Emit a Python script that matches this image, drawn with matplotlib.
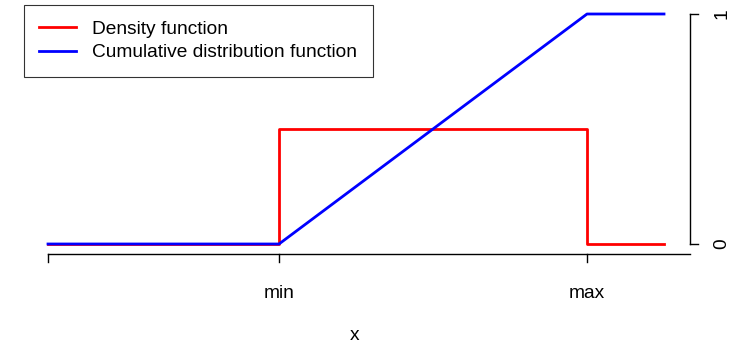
import matplotlib
matplotlib.use('Agg')
import matplotlib.pyplot as plt

# uniform distribution on [min, max], shown on a scaled axis
x_density = [-0.75, 0, 0, 1, 1, 1.25]
y_density = [0, 0, 0.5, 0.5, 0, 0]
x_cdf = [-0.75, 0, 1, 1.25]
y_cdf = [0, 0, 1, 1]
xtick_pos = [-0.75, 0, 1]
xtick_labels = ['', 'min', 'max']
ytick_pos = [0, 1]
ytick_labels = ['0', '1']

W, H = 738, 346
fig = plt.figure(figsize=(W / 100, H / 100), dpi=100)
plt.rcParams['font.family'] = ['Liberation Sans', 'DejaVu Sans']
fs = 13.8

# axes box in pixels: x 48..690, y 14..244
ax = fig.add_axes([48 / W, (H - 244) / H, (690 - 48) / W, 230 / H])
x_right = -0.75 + (690 - 48) / 308
ax.set_xlim(-0.75, x_right)
ax.set_ylim(0, 1)
for s in ax.spines.values():
    s.set_visible(False)
ax.set_xticks([])
ax.set_yticks([])

ax.plot(x_density, y_density, color='red', lw=2, label='Density function', clip_on=False)
ax.plot(x_cdf, y_cdf, color='blue', lw=2, label='Cumulative distribution function', clip_on=False)

# x axis drawn by hand below the plot
px = 1 / 230  # one pixel in y data units
ya = -10 * px
ax.plot([-0.75, x_right], [ya, ya], color='black', lw=1, clip_on=False)
for p, lab in zip(xtick_pos, xtick_labels):
    ax.plot([p, p], [ya, ya - 8 * px], color='black', lw=1, clip_on=False)
    ax.text(p, ya - 40 * px, lab, ha='center', va='center', fontsize=fs)
ax.text(-0.75 + (355 - 48) / 308, -91 * px, 'x', ha='center', va='center', fontsize=fs)

# y axis on the right
xa = x_right
dx = 1 / 308
ax.plot([xa, xa], [0, 1], color='black', lw=1, clip_on=False)
for p, lab in zip(ytick_pos, ytick_labels):
    ax.plot([xa, xa + 8 * dx], [p, p], color='black', lw=1, clip_on=False)
    ax.text(xa + 32 * dx, p, lab, ha='center', va='center', rotation=90, fontsize=fs)

leg = ax.legend(loc='upper left', bbox_to_anchor=(-24 / 642, 1 + 9 / 230),
                frameon=True, fancybox=False, edgecolor='black', fontsize=fs,
                handlelength=1.93, handletextpad=0.83, borderaxespad=0,
                borderpad=0.8, labelspacing=0.32)
leg.get_frame().set_linewidth(0.8)

fig.savefig('out.png', dpi=100)
